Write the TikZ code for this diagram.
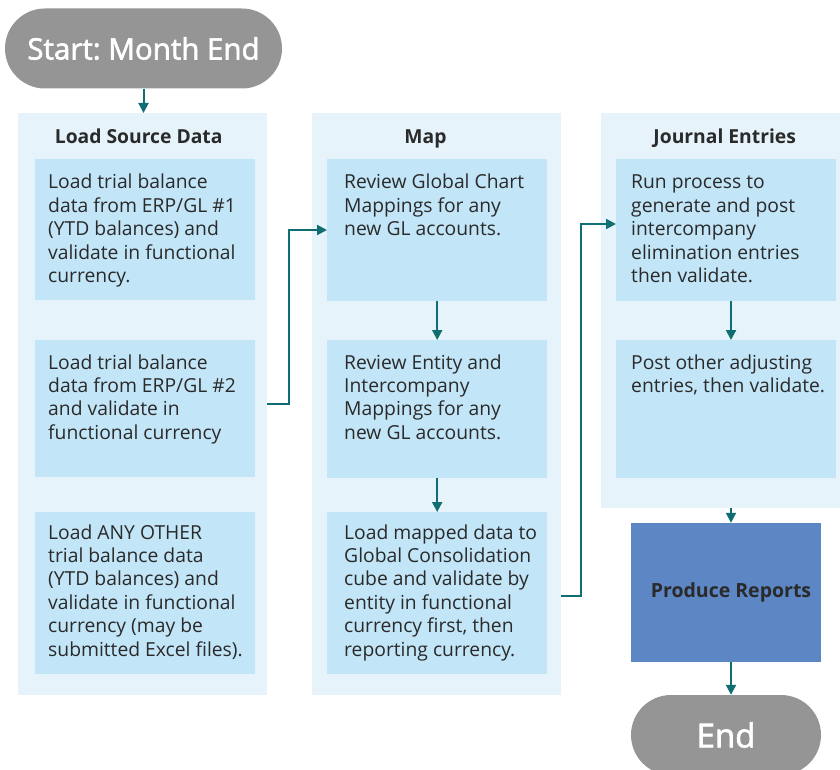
\documentclass[tikz,border=0pt]{standalone}
\usepackage{fontspec}
\setmainfont{Open Sans}
\newfontfamily\pillfont[FakeBold=2]{Open Sans}
\usetikzlibrary{arrows.meta}
\definecolor{panel}{HTML}{E6F3FA}
\definecolor{boxc}{HTML}{C2E5F7}
\definecolor{arrc}{HTML}{106E72}
\definecolor{pillc}{HTML}{959595}
\definecolor{txtc}{HTML}{2A2A2A}
\definecolor{prodc}{HTML}{5C86C4}
\newcommand\mylines[1]{\begin{tabular}[t]{@{}l@{}}#1\end{tabular}}
\frenchspacing
\begin{document}
\begin{tikzpicture}[x=1pt,y=-1pt,
  panelbox/.style={fill=panel, draw=none, inner sep=0pt, anchor=north west},
  stepbox/.style={fill=boxc, draw=none, inner sep=0pt, anchor=north west, minimum width=220},
  body/.style={anchor=base west, inner sep=0pt, text=txtc, font=\fontsize{19.3}{23.4}\selectfont},
  coltitle/.style={anchor=base, inner sep=0pt, text=txtc, font=\bfseries\fontsize{19.3}{22}\selectfont},
  pill/.style={fill=pillc, draw=none, rounded corners=40pt, inner sep=0pt, text=white},
  arr/.style={draw=arrc, line width=2pt, -{Triangle[width=10pt,length=10pt]}}]
\useasboundingbox (0,0) rectangle (840,770);
\clip (0,0) rectangle (840,770);

% start
\node[pill, minimum width=277, minimum height=80, font=\pillfont\fontsize{29.5}{34}\selectfont] (start) at (143.5,48.5) {Start: Month End};

% column panels
\node[panelbox, minimum width=249, minimum height=582] (c1) at (18,113) {};
\node[panelbox, minimum width=249, minimum height=582] (c2) at (312,113) {};
\node[panelbox, minimum width=250, minimum height=395] (c3) at (601,113) {};

\node[coltitle] (t1) at (138.7,143.3) {Load Source Data};
\node[coltitle] (t2) at (425.5,143.3) {Map};
\node[coltitle] (t3) at (724.7,143.3) {Journal Entries};

% step boxes
\node[stepbox, minimum height=141] (a1) at (35,159) {};
\node[stepbox, minimum height=137] (a2) at (35,340) {};
\node[stepbox, minimum height=162] (a3) at (35,512) {};
\node[stepbox, minimum height=142] (b1) at (327,159) {};
\node[stepbox, minimum height=138] (b2) at (327,340) {};
\node[stepbox, minimum height=162] (b3) at (327,512) {};
\node[stepbox, minimum height=142] (d1) at (616,159) {};
\node[stepbox, minimum height=138] (d2) at (616,340) {};

\node[body] (a1t) at (48,189) {\mylines{Load trial balance\\data from ERP/GL \#1\\(YTD balances) and\\validate in functional\\currency.}};
\node[body] (a2t) at (48,369) {\mylines{Load trial balance\\data from ERP/GL \#2\\and validate in\\functional currency}};
\node[body] (a3t) at (48,539) {\mylines{Load ANY OTHER\\trial balance data\\(YTD balances) and\\validate in functional\\currency (may be\\submitted Excel files).}};
\node[body] (b1t) at (344,189) {\mylines{Review Global Chart\\Mappings for any\\new GL accounts.}};
\node[body] (b2t) at (344,369) {\mylines{Review Entity and\\Intercompany\\Mappings for any\\new GL accounts.}};
\node[body] (b3t) at (344,539) {\mylines{Load mapped data to\\Global Consolidation\\cube and validate by\\entity in functional\\currency first, then\\reporting currency.}};
\node[body] (d1t) at (631,189) {\mylines{Run process to\\generate and post\\intercompany\\elimination entries\\then validate.}};
\node[body] (d2t) at (631,369) {\mylines{Post other adjusting\\entries, then validate.}};

% produce reports and end
\node[fill=prodc, draw=none, inner sep=0pt, minimum width=190, minimum height=139, text=txtc, font=\bfseries\fontsize{19.5}{22}\selectfont] (prod) at (726,592.5) {\hspace*{10pt}Produce Reports};
\node[pill, minimum width=190, minimum height=80, font=\pillfont\fontsize{33}{36}\selectfont] (end) at (726,735) {End};

% connectors
\coordinate (x3) at (731,0);
\draw[arr] (start.south) -- (start.south |- c1.north);
\draw[arr] (c1.east |- 0,404) -- (289,404) |- (b1.west |- 0,230);
\draw[arr] (c2.east |- 0,596) -- (581,596) |- (d1.west |- 0,224);
\draw[arr] (b1.south) -- (b2.north);
\draw[arr] (b2.south) -- (b3.north);
\draw[arr] (x3 |- d1.south) -- (x3 |- d2.north);
\draw[arr] (x3 |- c3.south) -- (x3 |- prod.north);
\draw[arr] (x3 |- prod.south) -- (x3 |- end.north);
\end{tikzpicture}
\end{document}
